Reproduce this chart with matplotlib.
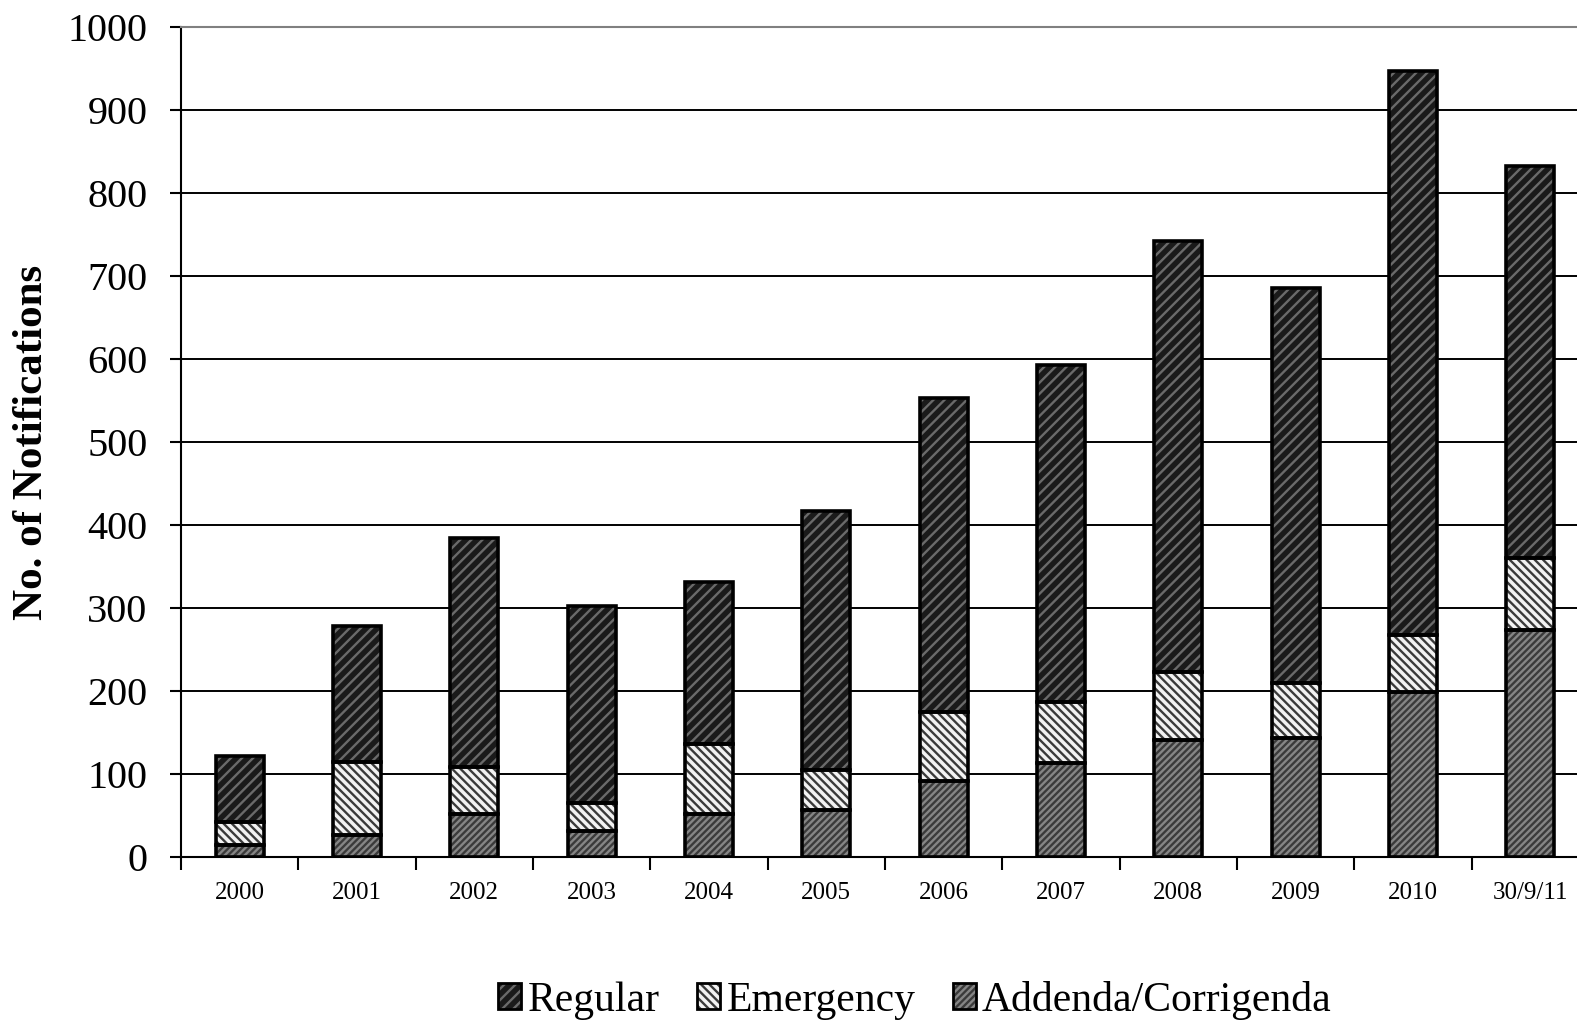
import numpy as np
import matplotlib as mpl
mpl.use('Agg')
import matplotlib.pyplot as plt
from matplotlib.patches import Patch

# data
years = ['2000', '2001', '2002', '2003', '2004', '2005', '2006', '2007', '2008', '2009', '2010', '30/9/11']
addenda = [14, 27, 52, 31, 52, 57, 91, 113, 141, 143, 199, 274]
emergency = [28, 87, 56, 34, 84, 48, 84, 74, 82, 67, 68, 86]
regular = [80, 164, 276, 238, 195, 312, 378, 406, 519, 476, 680, 473]

plt.rcParams['font.family'] = ['Liberation Serif', 'DejaVu Serif']
plt.rcParams['hatch.linewidth'] = 1.7

fig = plt.figure(figsize=(15.77, 10.23), dpi=100)
ax = fig.add_axes([181/1577, 166/1023, (1589-181)/1577, (857-27)/1023])

x = np.arange(len(years))
w = 0.41
add = np.array(addenda)
emg = np.array(emergency)
reg = np.array(regular)

# series styles: (face, hatch colour, hatch)
styles = {
    'Regular': ('#1a1a1a', '#6a6a6a', '///'),
    'Emergency': ('#f2f2f2', '#3a3a3a', '\\\\\\\\'),
    'Addenda/Corrigenda': ('#3a3a3a', '#858585', '/////'),
}

layers = [('Addenda/Corrigenda', add, 0), ('Emergency', emg, add), ('Regular', reg, add + emg)]
for name, vals, bottom in layers:
    fc, hc, h = styles[name]
    ax.bar(x, vals, w, bottom=bottom, color=fc, edgecolor=hc, hatch=h, linewidth=0, zorder=3)
    ax.bar(x, vals, w, bottom=bottom, fill=False, edgecolor='black', linewidth=2.6, zorder=4)

ax.set_ylim(0, 1000)
ax.set_xlim(-0.5, len(years) - 0.5)
ax.set_yticks(np.arange(0, 1001, 100))
ax.yaxis.grid(True, color='black', linewidth=1.4, zorder=0)
ax.set_axisbelow(True)
ax.tick_params(axis='y', labelsize=29, length=8, width=1.5, direction='out', pad=16)
ax.set_xticks(x)
ax.set_xticklabels(years)
ax.tick_params(axis='x', which='major', length=0, labelsize=18, pad=18)
ax.set_xticks(np.arange(-0.5, len(years), 1), minor=True)
ax.tick_params(axis='x', which='minor', length=9, width=1.5, direction='out')

for s in ['left', 'bottom']:
    ax.spines[s].set_linewidth(1.5)
ax.spines['right'].set_visible(False)
ax.spines['top'].set_color('#808080')
ax.spines['top'].set_linewidth(1.5)

ax.set_ylabel('No. of Notifications', fontsize=31, fontweight='bold')
ax.yaxis.set_label_coords(-0.092, 0.5)

handles = []
labels = ['Regular', 'Emergency', 'Addenda/Corrigenda']
for name in labels:
    fc, hc, h = styles[name]
    handles.append((Patch(facecolor=fc, edgecolor=hc, hatch=h, linewidth=0),
                    Patch(fill=False, edgecolor='black', linewidth=2)))
fig.legend(handles, labels, loc='center', bbox_to_anchor=(915/1577, 1 - 1000/1023), ncol=3,
           frameon=False, fontsize=30, handlelength=0.55, handleheight=0.6,
           handletextpad=0.15, columnspacing=0.9)

fig.savefig('out.png', dpi=100)
